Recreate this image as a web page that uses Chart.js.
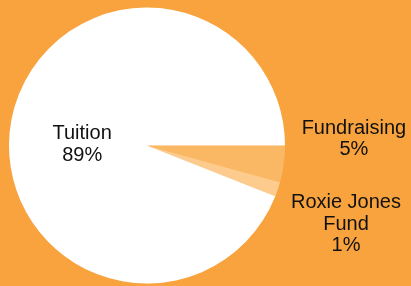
<!DOCTYPE html>
<html>
<head>
<meta charset="utf-8">
<script src="https://cdn.jsdelivr.net/npm/chart.js@4/dist/chart.umd.min.js"></script>
<style>
  html, body { margin: 0; padding: 0; background: #f8a33e; }
  #wrap { width: 411px; height: 286px; position: relative; }
</style>
</head>
<body>
<div id="wrap"><canvas id="pie"></canvas></div>
<script>
// slices, clockwise from 3 o'clock
var categories = ['Fundraising', 'Roxie Jones Fund', 'Tuition'];
var shares = [4.3, 1.7, 94.0];
var labelLines = [['Fundraising', '5%'], ['Roxie Jones', 'Fund', '1%'], ['Tuition', '89%']];
var sliceColors = ['#fab865', '#fccb8d', '#ffffff'];

// label placement relative to each slice: radius (x R) and angle shift (deg)
var labelPlace = [
    { r: 1.50, shift: -9.5 },
    { r: 1.55, shift: 3 },
    { r: 0.47, shift: -10 }
];

var sliceLabels = {
    id: 'sliceLabels',
    afterDatasetsDraw: function (chart) {
        var ctx = chart.ctx;
        var arcs = chart.getDatasetMeta(0).data;
        ctx.save();
        ctx.font = '20px "Liberation Sans", Arial, sans-serif';
        ctx.fillStyle = '#111';
        ctx.textAlign = 'center';
        ctx.textBaseline = 'middle';
        arcs.forEach(function (arc, i) {
            var p = arc.getProps(['x', 'y', 'startAngle', 'endAngle', 'outerRadius'], true);
            var mid = (p.startAngle + p.endAngle) / 2 + labelPlace[i].shift * Math.PI / 180;
            var r = p.outerRadius * labelPlace[i].r;
            var cx = p.x + Math.cos(mid) * r;
            var cy = p.y + Math.sin(mid) * r;
            var lines = labelLines[i];
            var lh = 21.5;
            lines.forEach(function (t, k) {
                ctx.fillText(t, cx, cy + (k - (lines.length - 1) / 2) * lh);
            });
        });
        ctx.restore();
    }
};

var ctx = document.getElementById('pie').getContext('2d');
new Chart(ctx, {
    type: 'pie',
    data: {
        labels: categories,
        datasets: [{
            data: shares,
            backgroundColor: sliceColors,
            borderWidth: 0
        }]
    },
    options: {
        responsive: true,
        maintainAspectRatio: false,
        animation: false,
        rotation: 90,
        layout: { padding: { left: 9, right: 126, top: 7, bottom: 2 } },
        plugins: {
            legend: { display: false },
            tooltip: { enabled: false }
        }
    },
    plugins: [sliceLabels]
});
</script>
</body>
</html>
